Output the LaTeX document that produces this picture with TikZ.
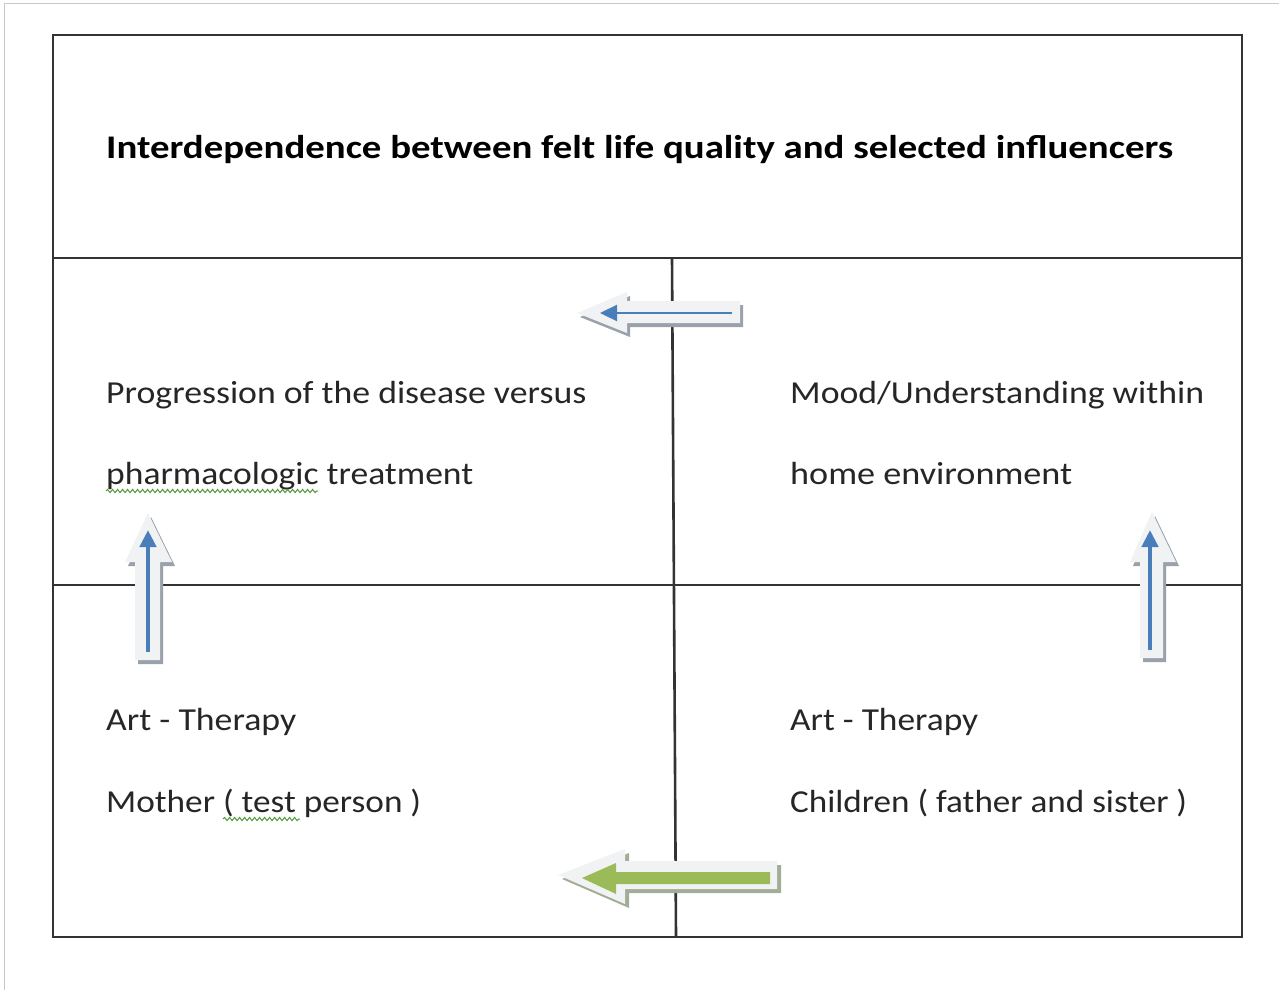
\documentclass[tikz,border=0pt]{standalone}
\usepackage{graphicx}
\usepackage{fontspec}
\setmainfont{Carlito}
\usetikzlibrary{arrows.meta,decorations.pathmorphing}
\definecolor{tline}{HTML}{333333}
\definecolor{pageedge}{HTML}{C8C8C8}
\definecolor{arrfill}{HTML}{F1F2F3}
\definecolor{arrshadow}{HTML}{9AA1AA}
\definecolor{gshadow}{HTML}{A3AC96}
\definecolor{ablue}{HTML}{4A7EBB}
\definecolor{agreen}{HTML}{9BBB59}
\definecolor{squig}{HTML}{4E9A3A}
\newcommand\fitw[2]{\resizebox{#1}{\height}{#2}}
\tikzset{
  tableline/.style={draw=tline, line width=2.6pt},
  txt/.style={inner sep=0pt, anchor=base west, text=black!85, font=\fontsize{32}{38}\selectfont},
  ttl/.style={inner sep=0pt, anchor=base west, text=black, font=\fontsize{33}{39}\selectfont\bfseries},
  blockarrow/.style={fill=arrfill, draw=none},
  blockshadow/.style={fill=arrshadow, draw=none},
  greenshadow/.style={fill=gshadow, draw=none},
  innerblue/.style={draw=ablue, line width=#1, -{Triangle[length=17pt,width=16pt]}},
  spellmark/.style={draw=squig, line width=1pt, decorate, decoration={snake, amplitude=1.6pt, segment length=5pt}}
}
\begin{document}
\begin{tikzpicture}[x=1pt,y=-1pt]
\useasboundingbox (0,0) rectangle (1279,990);
% page edge
\draw[pageedge, line width=1pt] (4,990) -- (4,4) -- (1279,4);

% table coordinates
\coordinate (tl) at (53,35);
\coordinate (tr) at (1242,35);
\coordinate (bl) at (53,937);
\coordinate (br) at (1242,937);
\coordinate (h1l) at (53,258);
\coordinate (h1r) at (1242,258);
\coordinate (h2l) at (53,585);
\coordinate (h2r) at (1242,585);
\coordinate (vt) at (672,258);
\coordinate (vb) at (676,937);

\draw[tableline] (tl) -- (tr) -- (br) -- (bl) -- cycle;
\draw[tableline] (h1l) -- (h1r);
\draw[tableline] (h2l) -- (h2r);
\draw[tableline] (vt) -- (vb);

% title
\node[ttl] (title) at (106,158) {\fitw{1067pt}{Interdependence between felt life quality and selected influencers}};

% cells text
\node[txt] (p1) at (106,403) {\fitw{480pt}{Progression of the disease versus}};
\node[txt] (p2) at (106,484) {\fitw{367pt}{pharmacologic treatment}};
\node[txt] (m1) at (790,403) {\fitw{414pt}{Mood/Understanding within}};
\node[txt] (m2) at (790,484) {\fitw{282pt}{home environment}};
\node[txt] (a1) at (106,730) {\fitw{190pt}{Art - Therapy}};
\node[txt] (a2) at (106,812) {\fitw{315pt}{Mother ( test person )}};
\node[txt] (c1) at (790,730) {\fitw{188pt}{Art - Therapy}};
\node[txt] (c2) at (790,812) {\fitw{397pt}{Children ( father and sister )}};

% spell-check marks
\draw[spellmark] (106,491) -- (318,491);
\draw[spellmark] (223,819) -- (300,819);

% top arrow (left)
\begin{scope}[shift={(3,4)}]
\fill[blockshadow] (577,313) -- (627,292) -- (627,301) -- (740,301) -- (740,323) -- (627,323) -- (627,333) -- cycle;
\end{scope}
\fill[blockarrow] (577,313) -- (627,292) -- (627,301) -- (740,301) -- (740,323) -- (627,323) -- (627,333) -- cycle;
\coordinate (ta1) at (732,313);
\coordinate (ta2) at (600,313);
\draw[innerblue=2.4pt] (ta1) -- (ta2);

% left up arrow
\begin{scope}[shift={(3,4)}]
\fill[blockshadow] (148,513) -- (172,562) -- (160,562) -- (160,660) -- (135,660) -- (135,562) -- (125,562) -- cycle;
\end{scope}
\fill[blockarrow] (148,513) -- (172,562) -- (160,562) -- (160,660) -- (135,660) -- (135,562) -- (125,562) -- cycle;
\coordinate (la1) at (148,652);
\coordinate (la2) at (148,530);
\draw[innerblue=4.5pt] (la1) -- (la2);

% right up arrow
\begin{scope}[shift={(3,4)}]
\fill[blockshadow] (1152,512) -- (1176,562) -- (1163,562) -- (1163,658) -- (1140,658) -- (1140,562) -- (1130,562) -- cycle;
\end{scope}
\fill[blockarrow] (1152,512) -- (1176,562) -- (1163,562) -- (1163,658) -- (1140,658) -- (1140,562) -- (1130,562) -- cycle;
\coordinate (ra1) at (1150,650);
\coordinate (ra2) at (1150,530);
\draw[innerblue=4.5pt] (ra1) -- (ra2);

% green arrow (left)
\begin{scope}[shift={(4,4)}]
\fill[greenshadow] (558,875) -- (625,849) -- (625,861) -- (777,861) -- (777,889) -- (625,889) -- (625,904) -- cycle;
\end{scope}
\fill[blockarrow] (558,875) -- (625,849) -- (625,861) -- (777,861) -- (777,889) -- (625,889) -- (625,904) -- cycle;
\fill[agreen] (582,878) -- (616,863) -- (616,872) -- (770,872) -- (770,884) -- (616,884) -- (616,894) -- cycle;
\end{tikzpicture}
\end{document}
